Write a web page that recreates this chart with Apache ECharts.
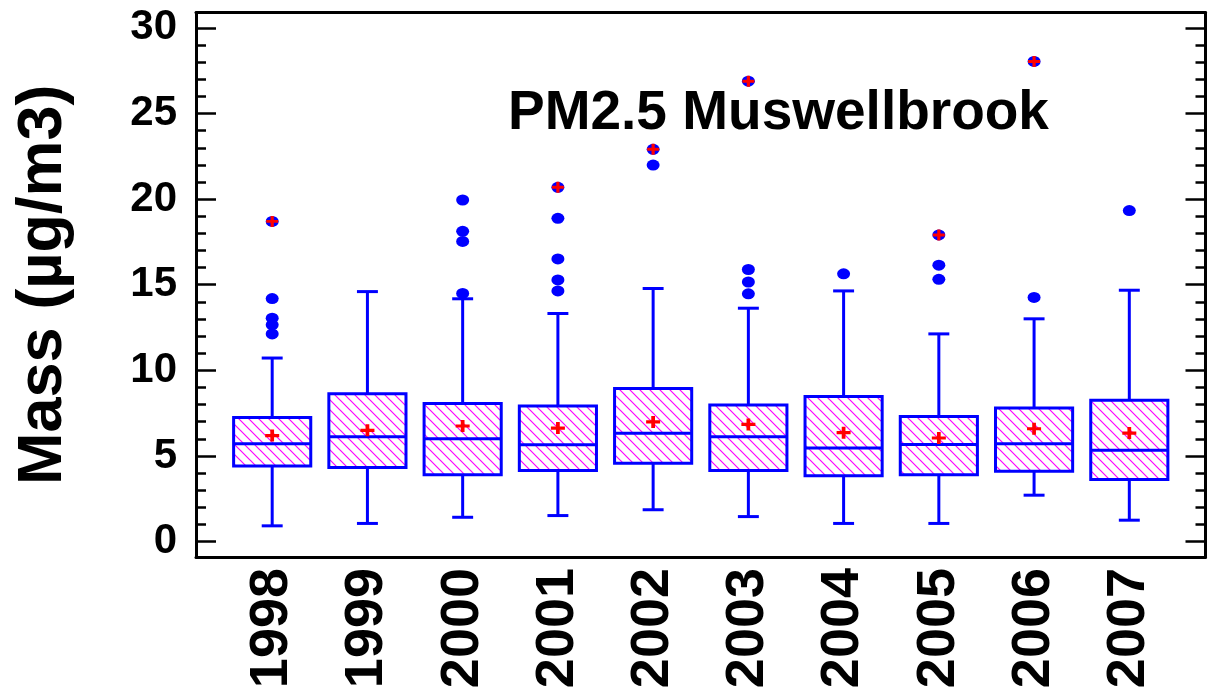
<!DOCTYPE html>
<html>
<head>
<meta charset="utf-8">
<script src="https://cdn.jsdelivr.net/npm/echarts@6/dist/echarts.min.js"></script>
<style>
html,body{margin:0;padding:0;background:#fff;}
#chart{width:1208px;height:695px;}
</style>
</head>
<body>
<div id="chart"></div>
<script>
// ---- data ----
const years = ['1998','1999','2000','2001','2002','2003','2004','2005','2006','2007'];
const lowerWhisker = [0.92, 1.06, 1.42, 1.52, 1.86, 1.46, 1.06, 1.06, 2.71, 1.25];
const q1           = [4.42, 4.32, 3.90, 4.15, 4.57, 4.15, 3.84, 3.90, 4.11, 3.63];
const median       = [5.71, 6.13, 6.00, 5.65, 6.32, 6.13, 5.47, 5.67, 5.71, 5.34];
const q3           = [7.24, 8.63, 8.07, 7.92, 8.94, 7.97, 8.47, 7.30, 7.80, 8.26];
const upperWhisker = [10.72, 14.60, 14.18, 13.32, 14.78, 13.63, 14.64, 12.13, 13.01, 14.68];
const means        = [6.19, 6.50, 6.75, 6.63, 6.99, 6.84, 6.36, 6.05, 6.59, 6.34];
const outliers = [
  [18.70, 14.19, 13.05, 12.66, 12.13],
  [],
  [19.95, 18.12, 17.53, 14.49],
  [20.69, 18.88, 16.51, 15.28, 14.64],
  [22.91, 21.99],
  [26.89, 15.89, 15.16, 14.47],
  [15.64],
  [17.91, 16.14, 15.32],
  [28.04, 14.26],
  [19.33]
];
const markedMax = [18.70, null, null, 20.69, 22.91, 26.89, null, 17.91, 28.04, null];
const yMajorTicks = [0, 5, 10, 15, 20, 25, 30];
const yMinorTicks = [0,1,2,3,4,5,6,7,8,9,10,11,12,13,14,15,16,17,18,19,20,21,22,23,24,25,26,27,28,29,30];
const titleText = 'PM2.5 Muswellbrook';
const yName = 'Mass (µg/m3)';

// ---- styling ----
const FONT = "'Liberation Sans', Arial, Helvetica, sans-serif";
const BLUE = '#0000ff';
const RED = '#ff0000';
const BOX_W = 0.81;
const CAP_W = 0.22;
const PLUS = 'path://M4.4,0H7.6V4.4H12V7.6H7.6V12H4.4V7.6H0V4.4H4.4Z';

const pc = document.createElement('canvas');
pc.width = 10; pc.height = 10;
const pctx = pc.getContext('2d');
pctx.strokeStyle = '#ff00ff';
pctx.lineWidth = 1.2;
pctx.beginPath();
pctx.moveTo(-1,-1); pctx.lineTo(11,11);
pctx.moveTo(-1,9); pctx.lineTo(1,11);
pctx.moveTo(9,-1); pctx.lineTo(11,1);
pctx.stroke();
const hatch = {image: pc, repeat: 'repeat'};

const boxData = years.map((y, i) => [i, lowerWhisker[i], q1[i], median[i], q3[i], upperWhisker[i]]);
const outlierData = [];
outliers.forEach((arr, i) => arr.forEach(v => outlierData.push([i, v])));
const markData = [];
markedMax.forEach((v, i) => { if (v != null) markData.push([i, v]); });
const meanData = means.map((v, i) => [i, v]);

const chart = echarts.init(document.getElementById('chart'));

function yAxisBase(pos, len, ticks, showLine) {
  return {
    type: 'value', position: pos, min: -0.9, max: 30.9,
    axisLine: {show: showLine, onZero: false, lineStyle: {color: '#000', width: 3}},
    axisTick: {show: true, inside: true, length: len, customValues: ticks, lineStyle: {color: '#000', width: 2.5}},
    axisLabel: {show: false},
    splitLine: {show: false}
  };
}

const yLeft = yAxisBase('left', 20, yMajorTicks, true);
yLeft.axisLabel = {
  show: true, customValues: yMajorTicks, margin: 19,
  fontSize: 42, fontWeight: 'bold', color: '#000', fontFamily: FONT
};
yLeft.name = yName;
yLeft.nameLocation = 'middle';
yLeft.nameGap = 121;
yLeft.nameTextStyle = {fontSize: 63, fontWeight: 'bold', color: '#000', fontFamily: FONT};

chart.setOption({
  animation: false,
  backgroundColor: '#fff',
  title: {
    text: titleText, left: 508, top: 86, padding: 0,
    textStyle: {fontSize: 55, fontWeight: 'bold', color: '#000', fontFamily: FONT}
  },
  grid: {left: 196, right: 2.5, top: 12.5, bottom: 138, containLabel: false},
  xAxis: [
    {
      type: 'value', position: 'bottom', min: -0.8, max: 9.8,
      axisLine: {show: true, onZero: false, lineStyle: {color: '#000', width: 3}},
      axisTick: {show: false},
      splitLine: {show: false},
      axisLabel: {
        customValues: [0,1,2,3,4,5,6,7,8,9],
        formatter: v => years[Math.round(v)],
        rotate: 90, margin: 11,
        fontSize: 54, fontWeight: 'bold', color: '#000', fontFamily: FONT
      }
    },
    {
      type: 'value', position: 'top', min: -0.8, max: 9.8,
      axisLine: {show: true, onZero: false, lineStyle: {color: '#000', width: 3}},
      axisTick: {show: false}, axisLabel: {show: false}, splitLine: {show: false}
    }
  ],
  yAxis: [
    yLeft,
    yAxisBase('left', 10, yMinorTicks, false),
    yAxisBase('right', 20, yMajorTicks, true),
    yAxisBase('right', 10, yMinorTicks, false)
  ],
  series: [
    {
      type: 'custom',
      xAxisIndex: 0, yAxisIndex: 0,
      data: boxData,
      encode: {x: 0, y: [1, 2, 3, 4, 5]},
      renderItem: function (params, api) {
        const i = api.value(0);
        const x = api.coord([i, 0])[0];
        const yl = api.coord([i, api.value(1)])[1];
        const y1 = api.coord([i, api.value(2)])[1];
        const ym = api.coord([i, api.value(3)])[1];
        const y3 = api.coord([i, api.value(4)])[1];
        const yu = api.coord([i, api.value(5)])[1];
        const hb = api.size([BOX_W, 0])[0] / 2;
        const hc = api.size([CAP_W, 0])[0] / 2;
        const ls = {stroke: BLUE, lineWidth: 3};
        return {
          type: 'group',
          children: [
            {type: 'line', shape: {x1: x, y1: yu, x2: x, y2: y3}, style: ls},
            {type: 'line', shape: {x1: x, y1: y1, x2: x, y2: yl}, style: ls},
            {type: 'line', shape: {x1: x - hc, y1: yu, x2: x + hc, y2: yu}, style: ls},
            {type: 'line', shape: {x1: x - hc, y1: yl, x2: x + hc, y2: yl}, style: ls},
            {type: 'rect', shape: {x: x - hb, y: y3, width: 2 * hb, height: y1 - y3},
              style: {fill: hatch, stroke: BLUE, lineWidth: 3}},
            {type: 'line', shape: {x1: x - hb, y1: ym, x2: x + hb, y2: ym}, style: ls}
          ]
        };
      },
      z: 2
    },
    {
      type: 'scatter', xAxisIndex: 0, yAxisIndex: 0,
      data: outlierData, symbol: 'circle', symbolSize: [13, 11],
      itemStyle: {color: BLUE, opacity: 1}, z: 3
    },
    {
      type: 'scatter', xAxisIndex: 0, yAxisIndex: 0,
      data: markData, symbol: PLUS, symbolSize: [12, 11],
      itemStyle: {color: RED, opacity: 1}, z: 4
    },
    {
      type: 'scatter', xAxisIndex: 0, yAxisIndex: 0,
      data: meanData, symbol: PLUS, symbolSize: [14, 12],
      itemStyle: {color: RED, opacity: 1}, z: 4
    }
  ]
});
</script>
</body>
</html>
